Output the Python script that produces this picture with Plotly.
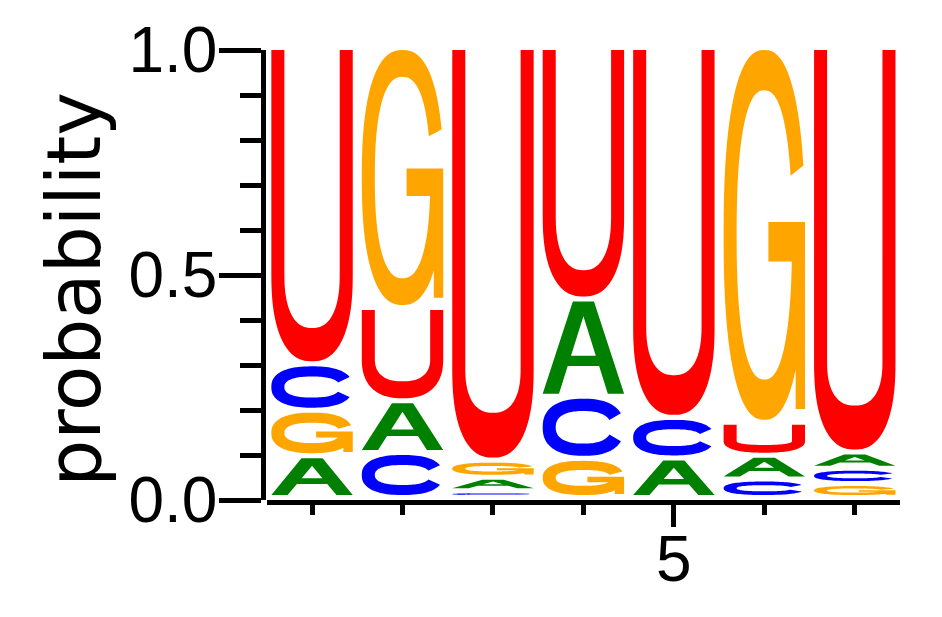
import numpy as np
import plotly.graph_objects as go

# ---------------- data ----------------
positions = [1, 2, 3, 4, 5, 6, 7]
prob_A = [0.093, 0.115, 0.030, 0.216, 0.088, 0.053, 0.036]
prob_C = [0.103, 0.100, 0.015, 0.138, 0.090, 0.041, 0.034]
prob_G = [0.101, 0.578, 0.038, 0.087, 0.000, 0.833, 0.031]
prob_U = [0.703, 0.207, 0.917, 0.559, 0.822, 0.073, 0.899]
y_tick_vals = [0.0, 0.5, 1.0]
y_tick_text = ["0.0", "0.5", "1.0"]
x_tick_vals = [5]
x_tick_text = ["5"]
y_title = "probability"

# ---------------- style ----------------
letter_colors = {"A": "#008000", "C": "#0000FF", "G": "#FFA500", "U": "#FF0000"}
PAGE_OFF = 8  # default body margin of the html page
FIG_W, FIG_H = 942 - PAGE_OFF, 617 - PAGE_OFF
M_L, M_R, M_T, M_B = 263 - PAGE_OFF, 42, 50 - PAGE_OFF, 117
X_DOM0 = 0.006
X_RANGE = [0.5, 7.5]
PLOT_W = FIG_W - M_L - M_R
PLOT_H = FIG_H - M_T - M_B
PX_Y = PLOT_H / 1.0
GLYPH_W = 0.9
GAP_PX = 5.0
SU = 0.16
NEXP = 2.4
TICK_FONT = "Liberation Sans, Arial, sans-serif"
TICK_SIZE = 64


def v_ratio(h):
    return float(np.interp(h, [10, 30, 50, 90, 250, 400], [0.27, 0.28, 0.22, 0.19, 0.105, 0.11]))


def bowl_ratio(h):
    return float(np.interp(h, [20, 90, 300, 400], [0.42, 0.45, 0.29, 0.22]))


def se(th_deg, cx, cy, rx, ry):
    th = np.radians(th_deg)
    c, s = np.cos(th), np.sin(th)
    e = 2.0 / NEXP
    return np.column_stack([cx + rx * np.sign(c) * np.abs(c) ** e,
                            cy + ry * np.sign(s) * np.abs(s) ** e])


def arc(t0, t1, cx, cy, rx, ry, n=60):
    return se(np.linspace(t0, t1, n), cx, cy, rx, ry)


def glyph_U(h):
    tv = v_ratio(h)
    rv = max(bowl_ratio(h), tv + 0.08)
    pts = [np.array([[0, 1], [0, rv]]),
           arc(180, 360, 0.5, rv, 0.5, rv),
           np.array([[1, rv], [1, 1], [1 - SU, 1], [1 - SU, rv]]),
           arc(360, 180, 0.5, rv, 0.5 - SU, rv - tv),
           np.array([[SU, rv], [SU, 1]])]
    return [np.vstack(pts)]


def glyph_C(h):
    tv = v_ratio(h)
    outer = arc(25, 335, 0.5, 0.5, 0.5, 0.5, 90)
    inner = arc(338, 22, 0.5, 0.5, 0.5 - SU, 0.5 - tv, 90)
    return [np.vstack([outer, inner])]


def glyph_G(h):
    tv = v_ratio(h)
    outer = arc(18, 355, 0.5, 0.5, 0.5, 0.5, 90)
    inner = arc(355, 20, 0.5, 0.5, 0.5 - SU, 0.5 - tv, 90)
    ring = np.vstack([outer, inner])
    bar_t = 0.535
    bar_b = bar_t - max(0.107, 0.6 * tv)
    stem = np.array([[0.885, 0.029], [1.0, 0.029], [1.0, bar_t], [0.885, bar_t]])
    bar = np.array([[0.55, bar_b], [1.0, bar_b], [1.0, bar_t], [0.55, bar_t]])
    return [ring, stem, bar]


def glyph_A(h):
    tv = v_ratio(h)
    w = 0.2
    va = 1 - max(0.16, 0.8 * tv)
    vb = 0.30
    vt = vb + 0.6 * tv

    def xl(v):
        return w + (0.5 - w) * v / va

    def xr(v):
        return 1 - xl(v)

    outer = np.array([[0, 0], [w, 0], [xl(vb), vb], [xr(vb), vb], [1 - w, 0], [1, 0],
                      [0.63, 1], [0.37, 1]])
    hole = np.array([[xl(vt), vt], [0.5, va], [xr(vt), vt]])
    return [outer, hole]


GLYPHS = {"A": glyph_A, "C": glyph_C, "G": glyph_G, "U": glyph_U}


def glyph_path(letter, xc, y0, y1):
    h_px = (y1 - y0) * PX_Y
    subs = GLYPHS[letter](h_px)
    parts = []
    for sp in subs:
        xs = xc - GLYPH_W / 2 + sp[:, 0] * GLYPH_W
        ys = y0 + sp[:, 1] * (y1 - y0)
        seg = "M" + " L".join(f"{x:.5f},{y:.5f}" for x, y in zip(xs, ys)) + " Z"
        parts.append(seg)
    return " ".join(parts)


shapes = []
probs = {"A": prob_A, "C": prob_C, "G": prob_G, "U": prob_U}
for i, pos in enumerate(positions):
    col = sorted(((probs[l][i], l) for l in "ACGU"), key=lambda t: t[0])
    base = 0.0
    for p, letter in col:
        top = base + p
        y0 = base + GAP_PX / PX_Y
        if top - y0 > 0.0005:
            shapes.append(dict(
                type="path", xref="x", yref="y",
                path=glyph_path(letter, pos, y0, top),
                fillcolor=letter_colors[letter],
                fillrule="evenodd" if letter == "A" else "nonzero",
                line=dict(width=0), layer="above"))
        base = top

fig = go.Figure()
fig.add_trace(go.Scatter(x=positions, y=[0] * len(positions), mode="markers",
                         marker=dict(opacity=0), hoverinfo="skip", showlegend=False))

title_cx = 74 - PAGE_OFF
title_cy = 289.7 - PAGE_OFF

fig.update_layout(
    width=FIG_W, height=FIG_H,
    margin=dict(l=M_L, r=M_R, t=M_T, b=M_B, pad=0, autoexpand=False),
    paper_bgcolor="white", plot_bgcolor="white",
    shapes=shapes,
    showlegend=False,
    xaxis=dict(domain=[X_DOM0, 1.0], range=X_RANGE, showgrid=False, zeroline=False,
               automargin=False,
               showline=True, linewidth=4.5, linecolor="black",
               ticks="outside", tickvals=x_tick_vals, ticktext=x_tick_text,
               ticklen=22, tickwidth=4.5, tickcolor="black", ticklabelstandoff=-23,
               tickfont=dict(family=TICK_FONT, size=TICK_SIZE, color="black"),
               minor=dict(ticks="outside", tickvals=positions, ticklen=10,
                          tickwidth=4.5, tickcolor="black", showgrid=False),
               fixedrange=True),
    yaxis=dict(range=[0, 1], anchor="free", position=0.0, showgrid=False, zeroline=False,
               automargin=False,
               showline=True, linewidth=4.5, linecolor="black",
               ticks="outside", tickvals=y_tick_vals, ticktext=y_tick_text,
               ticklen=42, tickwidth=4.5, tickcolor="black", ticklabelstandoff=-11,
               tickfont=dict(family=TICK_FONT, size=TICK_SIZE, color="black"),
               minor=dict(ticks="outside", dtick=0.1, tick0=0, ticklen=21,
                          tickwidth=4.5, tickcolor="black", showgrid=False),
               fixedrange=True),
    annotations=[dict(text=y_title, xref="paper", yref="paper",
                      x=(title_cx - M_L) / PLOT_W, y=(PLOT_H + M_T - title_cy) / PLOT_H,
                      xanchor="center", yanchor="middle", textangle=-90, showarrow=False,
                      font=dict(family="DejaVu Sans", size=74, color="black"))],
)

fig.write_html("out.html")
